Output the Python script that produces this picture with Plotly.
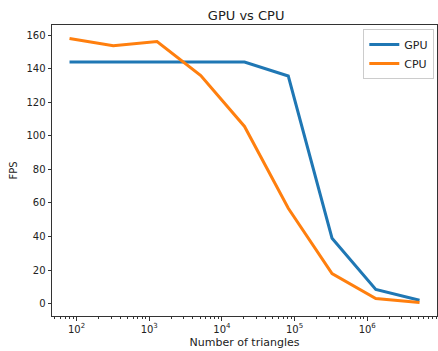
import plotly.graph_objects as go

triangles = [80, 320, 1280, 5120, 20480, 81920, 327680, 1310720, 5242880]
gpu_fps = [144, 144, 144, 144, 144, 135.7, 39, 8.4, 2]
cpu_fps = [158, 153.7, 156.2, 136, 105.6, 56.8, 17.9, 3, 0.6]
y_ticks = [0, 20, 40, 60, 80, 100, 120, 140, 160]
x_major = [100, 1000, 10000, 100000, 1000000]
x_major_labels = ["10<sup>2</sup>", "10<sup>3</sup>", "10<sup>4</sup>", "10<sup>5</sup>", "10<sup>6</sup>"]

minor_vals = [m * 10 ** e for e in range(1, 7) for m in range(2, 10)]

fig = go.Figure()
fig.add_trace(go.Scatter(x=triangles, y=gpu_fps, mode="lines", name="GPU",
                         line=dict(color="#1f77b4", width=3)))
fig.add_trace(go.Scatter(x=triangles, y=cpu_fps, mode="lines", name="CPU",
                         line=dict(color="#ff7f0e", width=3)))

fig.update_layout(
    width=438, height=351,
    margin=dict(l=52, r=1, t=25, b=35),
    plot_bgcolor="white", paper_bgcolor="white",
    font=dict(family="DejaVu Sans", size=10, color="#222"),
    title=dict(text="GPU vs CPU", x=0.562, xanchor="center", y=0.957, yanchor="middle",
               font=dict(size=13, color="#222")),
    showlegend=True,
    legend=dict(x=0.993, xanchor="right", y=0.986, yanchor="top",
                bordercolor="#cccccc", borderwidth=1, bgcolor="rgba(255,255,255,0.8)",
                font=dict(size=11), tracegroupgap=0, itemwidth=30),
)
fig.update_xaxes(
    type="log", range=[1.662, 6.96],
    tickmode="array", tickvals=x_major, ticktext=x_major_labels,
    ticks="outside", ticklen=3.5, tickcolor="#333",
    minor=dict(tickmode="array", tickvals=minor_vals, ticks="outside", ticklen=2, tickcolor="#333", showgrid=False),
    showline=True, linecolor="#333", linewidth=1, mirror=True, showgrid=False, zeroline=False,
    title=dict(text="Number of triangles", font=dict(size=11), standoff=4),
)
fig.update_yaxes(
    range=[-7.4, 166.1],
    tickmode="array", tickvals=y_ticks,
    ticks="outside", ticklen=3.5, tickcolor="#333",
    showline=True, linecolor="#333", linewidth=1, mirror=True, showgrid=False, zeroline=False,
    title=dict(text="FPS", font=dict(size=10), standoff=6),
)

fig.write_html("out.html", config={"displayModeBar": False},
               post_script="document.body.style.margin='0';document.body.style.overflow='hidden';")
